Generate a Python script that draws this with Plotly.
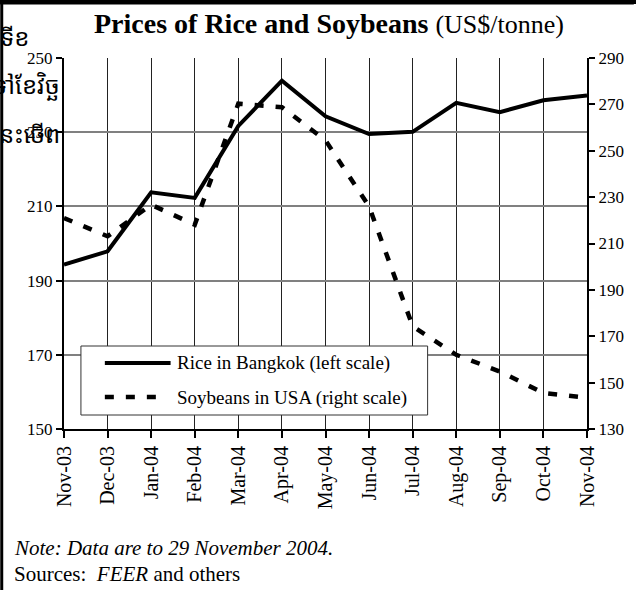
import plotly.graph_objects as go

months = ["Nov-03", "Dec-03", "Jan-04", "Feb-04", "Mar-04", "Apr-04", "May-04",
          "Jun-04", "Jul-04", "Aug-04", "Sep-04", "Oct-04", "Nov-04"]
rice_bangkok = [194.3, 197.9, 213.8, 212.3, 231.7, 243.9, 234.3,
                229.5, 230.1, 237.9, 235.4, 238.6, 239.9]
soy_usa = [221.0, 213.1, 226.7, 218.1, 270.3, 268.8, 254.5,
           226.0, 174.3, 162.0, 154.8, 145.5, 143.5]
left_ticks = [150, 170, 190, 210, 230, 250]
right_ticks = [130, 150, 170, 190, 210, 230, 250, 270, 290]

W, H = 636, 601
L, R, T, B = 64, 589, 58, 429
PW, PH = R - L, B - T

def xp(px):
    return (px - L) / PW

def yp(py):
    return (B - py) / PH

SERIF = "Liberation Serif, Times New Roman, serif"
KHMER = "Noto Sans Khmer, Khmer OS, Noto Serif Khmer, Noto Sans, DejaVu Sans"

fig = go.Figure()
fig.add_trace(go.Scatter(x=months, y=rice_bangkok, mode="lines", name="Rice in Bangkok (left scale)",
                         line=dict(color="black", width=4), yaxis="y", showlegend=False))
fig.add_trace(go.Scatter(x=months, y=soy_usa, mode="lines", name="Soybeans in USA (right scale)",
                         line=dict(color="black", width=4.5, dash="9px,12px"), yaxis="y2", showlegend=False))

shapes = [
    # page borders
    dict(type="line", xref="paper", yref="paper", x0=xp(1.5), x1=xp(1.5), y0=yp(590), y1=yp(0),
         line=dict(color="black", width=3), layer="above"),
    dict(type="rect", xref="paper", yref="paper", x0=xp(0), x1=xp(636), y0=yp(4), y1=yp(0),
         fillcolor="black", line=dict(color="black", width=1), layer="above"),
    # legend box
    dict(type="rect", xref="paper", yref="paper", x0=xp(81), x1=xp(429), y0=yp(415), y1=yp(346),
         fillcolor="white", line=dict(color="#333333", width=1), layer="above"),
    dict(type="line", xref="paper", yref="paper", x0=xp(105), x1=xp(171), y0=yp(363), y1=yp(363),
         line=dict(color="black", width=4), layer="above"),
    dict(type="line", xref="paper", yref="paper", x0=xp(105), x1=xp(165), y0=yp(397), y1=yp(397),
         line=dict(color="black", width=4.5, dash="9px,12px"), layer="above"),
]

annotations = [
    # top page border drawn as a filled annotation box
    dict(xref="paper", yref="paper", x=xp(0), y=yp(0), xanchor="left", yanchor="top",
         showarrow=False, text=" ", width=636, height=4, bgcolor="black", borderpad=0,
         borderwidth=0, font=dict(size=1, color="black")),
    dict(xref="paper", yref="paper", x=xp(92), y=yp(23), xanchor="left", yanchor="middle",
         showarrow=False,
         text="<b>Prices of Rice and Soybeans</b> <span style='font-size:26px'>(US$/tonne)</span>",
         font=dict(family=SERIF, size=28, color="black")),
    dict(xref="paper", yref="paper", x=xp(175), y=yp(363), xanchor="left", yanchor="middle", showarrow=False,
         text="Rice in Bangkok (left scale)", font=dict(family=SERIF, size=19, color="black")),
    dict(xref="paper", yref="paper", x=xp(175), y=yp(398), xanchor="left", yanchor="middle", showarrow=False,
         text="Soybeans in USA (right scale)", font=dict(family=SERIF, size=19, color="black")),
    dict(xref="paper", yref="paper", x=xp(12), y=yp(548), xanchor="left", yanchor="middle", showarrow=False,
         text="<i>Note: Data are to 29 November 2004.</i>", font=dict(family=SERIF, size=21, color="black")),
    dict(xref="paper", yref="paper", x=xp(12), y=yp(574), xanchor="left", yanchor="middle", showarrow=False,
         text="Sources:  <i>FEER</i> and others", font=dict(family=SERIF, size=21, color="black")),
    # Khmer fragments from the surrounding page (cut by the left page edge)
    dict(xref="paper", yref="paper", x=xp(32), y=yp(36), xanchor="right", yanchor="middle", showarrow=False,
         text="ទើខ", font=dict(family=KHMER, size=24, color="black")),
    dict(xref="paper", yref="paper", x=xp(62), y=yp(84), xanchor="right", yanchor="middle", showarrow=False,
         text="ទៅខែវិច្ឆ", font=dict(family=KHMER, size=24, color="black")),
    dict(xref="paper", yref="paper", x=xp(62), y=yp(133), xanchor="right", yanchor="middle", showarrow=False,
         text="នេះចើព", font=dict(family=KHMER, size=24, color="black")),
]

fig.update_layout(
    width=W, height=H,
    margin=dict(l=L, r=W - R, t=T, b=H - B, pad=0),
    paper_bgcolor="white", plot_bgcolor="white",
    font=dict(family=SERIF, size=16, color="black"),
    xaxis=dict(type="category", range=[0, len(months) - 1], tickangle=-90,
               tickfont=dict(family=SERIF, size=20, color="black"),
               showline=True, linecolor="black", linewidth=2,
               ticks="outside", ticklen=7, tickwidth=2, tickcolor="black",
               showgrid=True, gridcolor="#222222", gridwidth=1, zeroline=False),
    yaxis=dict(range=[150, 250], tickvals=left_ticks, ticktext=[str(v) for v in left_ticks],
               tickfont=dict(family=SERIF, size=17, color="black"),
               showline=True, linecolor="black", linewidth=2,
               ticks="outside", ticklen=6, tickwidth=2, tickcolor="black",
               showgrid=True, gridcolor="#808080", gridwidth=1.5, zeroline=False),
    yaxis2=dict(range=[130, 290], tickvals=right_ticks, ticktext=[str(v) for v in right_ticks],
                overlaying="y", side="right",
                tickfont=dict(family=SERIF, size=17, color="black"),
                showline=True, linecolor="black", linewidth=2,
                ticks="outside", ticklen=6, tickwidth=2, tickcolor="black",
                showgrid=False, zeroline=False),
    shapes=shapes,
    annotations=annotations,
    showlegend=False,
)

fig.write_html("out.html", config={"displayModeBar": False},
               post_script="document.body.style.margin='0';document.body.style.overflow='hidden';")
